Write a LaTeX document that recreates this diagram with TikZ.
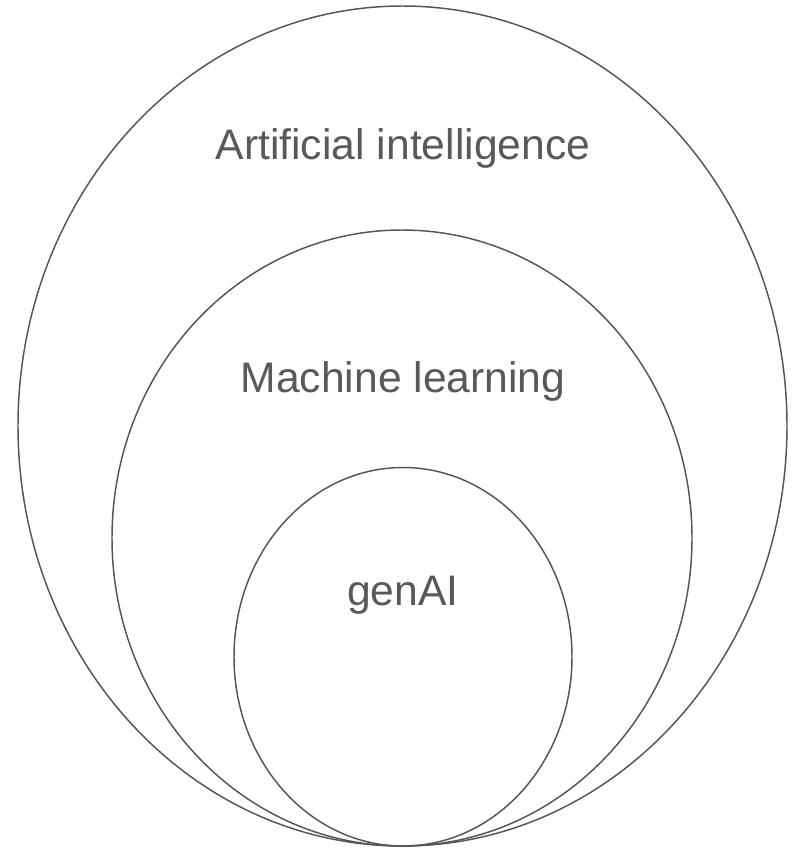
\documentclass[tikz,border=0pt]{standalone}
\usepackage{fontspec}
\setmainfont{Liberation Sans}
\definecolor{txt}{HTML}{595959}
\definecolor{ln}{HTML}{555555}
\begin{document}
\begin{tikzpicture}[x=0.75pt,y=-0.75pt,
  ring/.style={draw=ln,line width=1.1pt},
  lbl/.style={text=txt,font=\fontsize{32}{38}\selectfont,anchor=base,inner sep=0pt}]
\useasboundingbox (0,0) rectangle (804,858);
\draw[ring] (402.5,426) ellipse [x radius=384.5, y radius=420];
\draw[ring] (402,538) ellipse [x radius=290, y radius=308];
\draw[ring] (403,656.75) ellipse [x radius=169, y radius=189.25];
\node[lbl] (ai) at (403,159) {Artificial intelligence};
\node[lbl] (ml) at (403,392.5) {Machine learning};
\node[lbl] (gen) at (403,605.5) {genAI};
\end{tikzpicture}
\end{document}
